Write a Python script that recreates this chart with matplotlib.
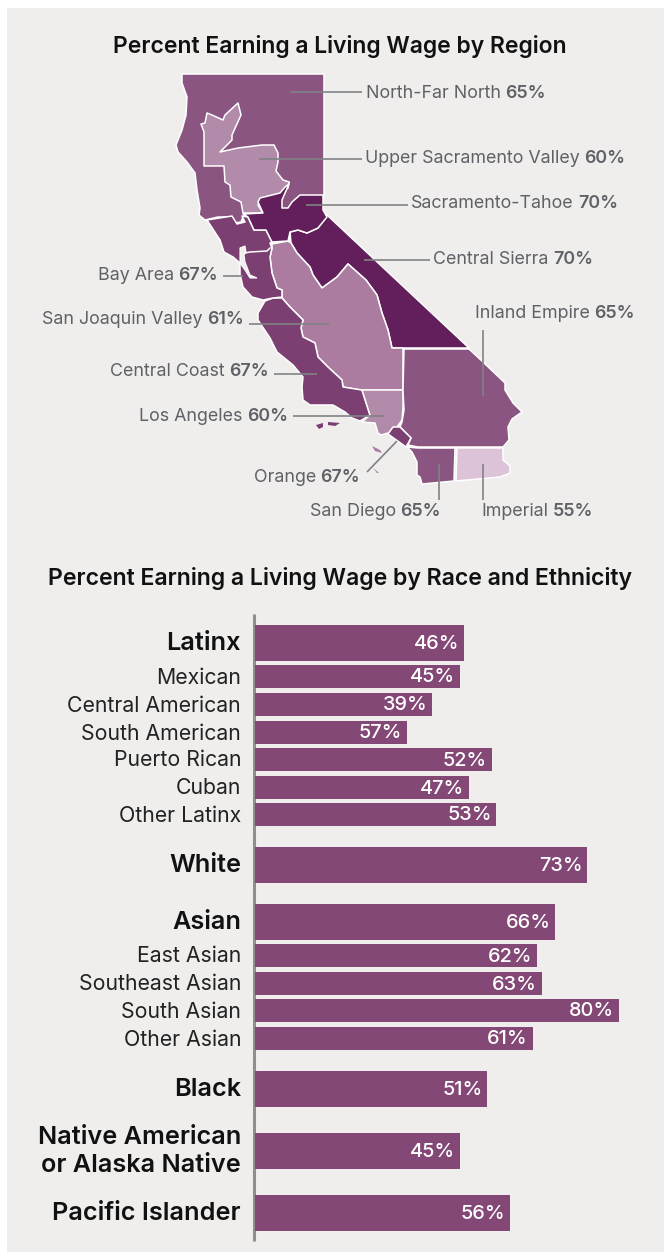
import matplotlib
matplotlib.use("Agg")
import matplotlib.pyplot as plt
from matplotlib.patches import Polygon, Rectangle

W, H = 664, 1253

# bar chart data
bar_labels = ["Latinx", "Mexican", "Central American", "South American", "Puerto Rican", "Cuban",
              "Other Latinx", "White", "Asian", "East Asian", "Southeast Asian", "South Asian",
              "Other Asian", "Black", "Native American\nor Alaska Native", "Pacific Islander"]
bar_printed = [46, 45, 39, 57, 52, 47, 53, 73, 66, 62, 63, 80, 61, 51, 45, 56]
# the South American bar is drawn much shorter than its printed 57%
bar_lengths = [46, 45, 39, 33.4, 52, 47, 53, 73, 66, 62, 63, 80, 61, 51, 45, 56]
bar_is_group = [True, False, False, False, False, False, False, True, True, False, False, False,
                False, True, True, True]

# map data, outlines in image pixels
region_names = ["North-Far North", "Upper Sacramento Valley", "Sacramento-Tahoe", "Central Sierra",
                "Inland Empire", "Bay Area", "San Joaquin Valley", "Central Coast", "Los Angeles",
                "Orange", "San Diego", "Imperial"]
region_values = [65, 60, 70, 70, 65, 67, 61, 67, 60, 67, 65, 55]

north_far_north = [(182, 74), (324, 74), (324, 196), (300, 196), (293, 202), (288, 209), (281, 209),
                   (281, 200), (285, 192), (289, 182), (260, 205), (243, 217), (241, 222), (235, 223),
                   (228, 217), (218, 217), (205, 220), (199, 215), (200, 208), (197, 190), (195, 173),
                   (187, 162), (178, 152), (176, 145), (182, 130), (186, 115), (187, 97), (182, 83)]
upper_sacramento = [(289, 182), (283, 180), (276, 171), (278, 162), (278, 153), (274, 145), (262, 145),
                    (238, 148), (220, 152), (232, 140), (232, 135), (241, 115), (238, 103), (225, 115),
                    (223, 120), (212, 115), (207, 113), (205, 123), (201, 124), (204, 132), (204, 166),
                    (224, 166), (225, 182), (230, 185), (231, 197), (241, 202), (243, 213), (263, 213),
                    (258, 205), (260, 200), (278, 195), (288, 188)]
sacramento_tahoe = [(323, 195), (300, 195), (292, 202), (288, 208), (282, 208), (282, 200), (289, 184),
                    (285, 187), (280, 193), (260, 198), (258, 202), (263, 213), (243, 214), (248, 217),
                    (254, 230), (266, 230), (272, 242), (288, 241), (290, 232), (298, 230),
                    (307, 233), (318, 228), (327, 217), (323, 210)]
central_sierra = [(327, 215), (469, 348), (392, 348), (388, 330), (382, 313), (377, 295), (366, 280),
                  (348, 264), (337, 277), (322, 288), (313, 275), (310, 267), (297, 253), (291, 243),
                  (290, 232), (298, 230), (307, 233), (318, 228)]
san_joaquin = [(272, 244), (288, 241), (291, 243), (297, 253), (310, 267), (313, 275), (322, 288),
               (337, 277), (348, 264), (366, 280), (377, 295), (382, 313), (388, 330), (392, 348),
               (403, 348), (403, 390), (360, 390), (343, 387), (342, 380), (328, 367), (318, 357),
               (315, 343), (303, 337), (301, 328), (303, 320), (290, 307), (282, 298), (282, 290),
               (277, 288), (272, 273), (270, 257), (272, 248)]
los_angeles = [(362, 390), (403, 390), (403, 407), (402, 420), (397, 427), (388, 433), (381, 435),
               (378, 433), (375, 423), (362, 422), (370, 415)]
central_coast = [(265, 301), (273, 298), (282, 298), (290, 307), (303, 320), (301, 328), (303, 337),
                 (315, 343), (318, 357), (328, 367), (342, 380), (343, 387), (362, 390), (370, 415),
                 (360, 421), (352, 418), (345, 412), (333, 405), (310, 405), (303, 400), (302, 387),
                 (303, 377), (293, 365), (277, 352), (270, 338), (258, 320), (258, 313)]
bay_area = [(207, 220), (232, 216), (237, 224), (245, 222), (242, 216), (248, 217), (254, 230), (266, 230),
            (272, 242), (270, 243), (272, 248), (270, 257), (272, 273), (277, 288), (282, 290), (282, 297),
            (273, 298), (263, 300), (252, 297), (243, 287), (240, 274), (240, 263), (233, 257),
            (224, 252), (220, 240)]
bay_water = [(240, 248), (245, 246), (246, 252), (244, 255), (245, 262), (250, 275), (257, 278), (250, 278),
             (245, 270), (240, 263)]
bay_bridge = [(245, 253), (250, 252), (267, 251), (270, 248)]
inland_empire = [(404, 349), (469, 349), (483, 362), (505, 383), (505, 390), (513, 403), (522, 412),
                 (512, 419), (508, 427), (509, 440), (503, 447), (418, 447), (408, 445), (411, 438),
                 (400, 427), (402, 422), (404, 410), (403, 390)]
orange = [(388, 434), (393, 427), (400, 427), (411, 438), (406, 447)]
san_diego = [(407, 447), (418, 448), (455, 448), (454, 481), (422, 484), (420, 477), (417, 475),
             (417, 462), (412, 452)]
imperial = [(457, 448), (503, 448), (503, 460), (510, 466), (510, 473), (500, 477), (456, 481)]
dark_islands = [[(316, 425), (323, 423), (323, 427), (319, 429)],
                [(328, 422), (340, 423), (335, 426), (328, 425)]]
pink_islands = [[(372, 446), (380, 450), (382, 453), (375, 451)],
                [(373, 468), (379, 473), (377, 473)]]

text_gray = "#5f6166"
line_gray = "#808285"
panel = "#efeeed"
bar_color = "#844876"
c55, c60, c61, c65, c67, c70 = "#dcc3d8", "#b18ba9", "#ab7ca0", "#8b5582", "#7b3f72", "#621f5b"

plt.rcParams["font.family"] = ["Inter", "DejaVu Sans"]


def region_label(ax, x, y, name, value, align="left"):
    # name in regular and value in semibold, measured so they sit side by side
    renderer = ax.figure.canvas.get_renderer()
    t1 = ax.text(x, y, name, fontsize=12.85, color=text_gray, va="center_baseline", ha="left")
    t2 = ax.text(x, y, f"{value}%", fontsize=12.85, color=text_gray, va="center_baseline", ha="left", fontweight=600)
    w1 = t1.get_window_extent(renderer).width + 4.5
    w2 = t2.get_window_extent(renderer).width
    left = x if align == "left" else x - w1 - w2
    t1.set_x(left)
    t2.set_x(left + w1)


def main():
    fig = plt.figure(figsize=(W / 100, H / 100), dpi=100, facecolor="white")
    ax = fig.add_axes([0, 0, 1, 1])
    ax.set_xlim(0, W)
    ax.set_ylim(H, 0)
    ax.axis("off")
    ax.add_patch(Rectangle((7, 8), W - 7, H - 9, facecolor=panel, edgecolor="none"))

    ax.text(340, 44, "Percent Earning a Living Wage by Region", fontsize=16.5, fontweight=600,
            ha="center", va="center_baseline", color="#111111")
    ax.text(340, 576.5, "Percent Earning a Living Wage by Race and Ethnicity", fontsize=16.6, fontweight=600,
            ha="center", va="center_baseline", color="#111111")

    # map layers, later ones sit on top of the shared borders
    shapes = [(north_far_north, c65), (upper_sacramento, c60), (central_sierra, c70), (san_joaquin, c61),
              (central_coast, c67), (bay_area, c67), (sacramento_tahoe, c70), (los_angeles, c60),
              (inland_empire, c65), (orange, c67), (san_diego, c65), (imperial, c55)]
    for pts, color in shapes:
        ax.add_patch(Polygon(pts, closed=True, facecolor=color, edgecolor="white", linewidth=1.1,
                             joinstyle="round"))
    ax.add_patch(Polygon(bay_water, closed=True, facecolor=panel, edgecolor="white", linewidth=0.8))
    ax.plot(*zip(*bay_bridge), color="white", linewidth=1.1)
    for pts in dark_islands:
        ax.add_patch(Polygon(pts, closed=True, facecolor=c67, edgecolor="none"))
    for pts in pink_islands:
        ax.add_patch(Polygon(pts, closed=True, facecolor=c61, edgecolor="none"))

    # leader lines
    leaders = [((290, 362), (92, 92)), ((259, 362), (158.5, 158.5)), ((306, 408), (205, 205)),
               ((364, 430), (260, 260)), ((482.5, 482.5), (330, 396)), ((223, 243), (276, 276)),
               ((249, 329), (323.5, 323.5)), ((274, 317), (374, 374)), ((293, 384), (415.5, 415.5)),
               ((367, 397), (472, 441)), ((439, 439), (464, 500)), ((483, 483), (464, 500))]
    for xs, ys in leaders:
        ax.plot(xs, ys, color=line_gray, linewidth=1.2, solid_capstyle="butt")

    anchors = [(366, 91, "left"), (365, 156.5, "left"), (411, 201, "left"), (433, 258, "left"),
               (475, 312, "left"), (218, 273, "right"), (244, 318, "right"), (269, 370, "right"),
               (288, 414.5, "right"), (360, 475, "right"), (441, 510, "right"), (481, 510, "left")]
    for name, value, (x, y, align) in zip(region_names, region_values, anchors):
        region_label(ax, x, y, name, value, align)

    # bar chart, x axis is in percent
    px_per_pct = 4.55
    ax_bar = fig.add_axes([255 / W, 0, (W - 255) / W, 1])
    ax_bar.set_xlim(0, (W - 255) / px_per_pct)
    ax_bar.set_ylim(H, 0)
    ax_bar.axis("off")
    ax_bar.patch.set_alpha(0)

    row_tops = [625, 665, 693, 721, 748, 776, 803, 847, 904, 944, 972, 999, 1027, 1071, 1133, 1195]
    for i, label in enumerate(bar_labels):
        height = 36 if bar_is_group[i] else 23
        yc = row_tops[i] + height / 2
        ax_bar.barh(yc, bar_lengths[i], height=height, color=bar_color)
        ax_bar.text(bar_lengths[i] - 1.0, yc - 1, f"{bar_printed[i]}%", color="white", fontsize=14.3,
                    ha="right", va="center_baseline", fontweight=500)
        if bar_is_group[i]:
            ax.text(241, yc + 0.5, label, fontsize=18.2, fontweight=600, ha="right", va="center",
                    color="#111111", linespacing=1.3)
        else:
            ax.text(241, yc - 1, label, fontsize=15.3, ha="right", va="center_baseline", color="#222222")

    ax.plot([253.5, 253.5], [614, 1241], color="#8e8f90", linewidth=2.2, solid_capstyle="butt")

    plt.savefig("out.png", dpi=100)


if __name__ == "__main__":
    main()
